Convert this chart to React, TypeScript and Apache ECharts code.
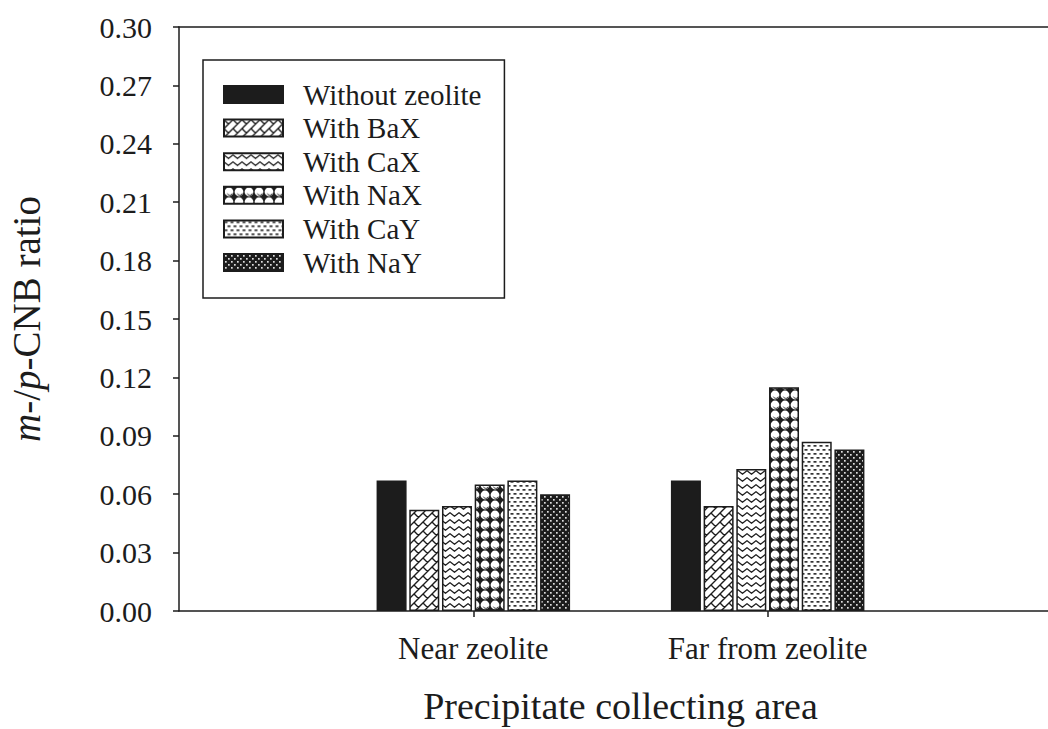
import React, { useEffect, useRef } from 'react';
import * as echarts from 'echarts';

// Sampling locations on the category axis
const categories = ['Near zeolite', 'Far from zeolite'];

// m-/p-CNB ratio per treatment, in category order
const seriesNames = ['Without zeolite', 'With BaX', 'With CaX', 'With NaX', 'With CaY', 'With NaY'];
const withoutZeolite = [0.067, 0.067];
const withBaX = [0.052, 0.054];
const withCaX = [0.054, 0.073];
const withNaX = [0.065, 0.115];
const withCaY = [0.067, 0.087];
const withNaY = [0.06, 0.083];

// y-axis range
const yMin = 0;
const yMax = 0.3;
const yStep = 0.03;

const FONT = "'Liberation Serif', 'Times New Roman', serif";
const INK = '#1c1c1c';

type Draw = (ctx: CanvasRenderingContext2D, w: number, h: number) => void;

function tile(w: number, h: number, draw: Draw) {
  const c = document.createElement('canvas');
  c.width = w;
  c.height = h;
  const ctx = c.getContext('2d') as CanvasRenderingContext2D;
  draw(ctx, w, h);
  return { image: c, repeat: 'repeat', imageWidth: w, imageHeight: h } as any;
}

// diagonal brick hatch
function brickPattern() {
  return tile(18, 18, (ctx, w) => {
    ctx.fillStyle = '#fff';
    ctx.fillRect(0, 0, w, w);
    ctx.strokeStyle = INK;
    ctx.lineWidth = 1.4;
    const a = w / Math.SQRT2;
    const H = a / 2;
    const L = a;
    ctx.save();
    ctx.rotate(-Math.PI / 4);
    ctx.beginPath();
    for (let k = -6; k <= 6; k++) {
      const q = k * H;
      ctx.moveTo(-80, q);
      ctx.lineTo(80, q);
      const off = (((k % 2) + 2) % 2) * (L / 2);
      for (let j = -7; j <= 7; j++) {
        const p = j * L + off;
        ctx.moveTo(p, q);
        ctx.lineTo(p, q + H);
      }
    }
    ctx.stroke();
    ctx.restore();
  });
}

// horizontal zigzag waves
function wavePattern() {
  return tile(9, 7, (ctx, w, h) => {
    ctx.fillStyle = '#fff';
    ctx.fillRect(0, 0, w, h);
    ctx.strokeStyle = INK;
    ctx.lineWidth = 1.3;
    ctx.lineJoin = 'round';
    ctx.beginPath();
    for (const dy of [-h, 0, h]) {
      const base = h / 2 + dy;
      ctx.moveTo(-w / 2, base + 1.8);
      ctx.lineTo(0, base - 1.8);
      ctx.lineTo(w / 2, base + 1.8);
      ctx.lineTo(w, base - 1.8);
      ctx.lineTo(w * 1.5, base + 1.8);
    }
    ctx.stroke();
  });
}

// white circles on black
function circlePattern() {
  return tile(10, 10, (ctx, w, h) => {
    ctx.fillStyle = INK;
    ctx.fillRect(0, 0, w, h);
    ctx.fillStyle = '#fff';
    ctx.beginPath();
    ctx.arc(w / 2, h / 2, 4.4, 0, Math.PI * 2);
    ctx.fill();
    ctx.strokeStyle = INK;
    ctx.lineWidth = 0.8;
    ctx.beginPath();
    ctx.arc(w / 2 + 0.8, h / 2 + 0.8, 2.6, 0.1 * Math.PI, 0.9 * Math.PI);
    ctx.stroke();
  });
}

// fine dashes on white
function dashPattern() {
  return tile(6, 8, (ctx, w, h) => {
    ctx.fillStyle = '#fff';
    ctx.fillRect(0, 0, w, h);
    ctx.fillStyle = '#333';
    ctx.fillRect(0.5, 1, 3, 1.7);
    ctx.fillRect(3.5, 5, 3, 1.7);
    ctx.fillRect(-2.5, 5, 3, 1.7);
  });
}

// white dots on black
function dotPattern() {
  return tile(6, 6, (ctx, w, h) => {
    ctx.fillStyle = INK;
    ctx.fillRect(0, 0, w, h);
    ctx.fillStyle = '#ddd';
    ctx.fillRect(1, 1, 1.7, 1.7);
    ctx.fillRect(4, 4, 1.7, 1.7);
  });
}

export default function App() {
  const ref = useRef<HTMLDivElement>(null);

  useEffect(() => {
    if (!ref.current) return;
    const chart = echarts.init(ref.current, null, { renderer: 'svg' });

    // empty end slots put the two groups at one-third and two-thirds of the axis
    const axisData = ['', ...categories, ''];
    const pad = (vals: number[]) => ['-', ...vals, '-'];

    const values = [withoutZeolite, withBaX, withCaX, withNaX, withCaY, withNaY];
    const fills: any[] = [INK, brickPattern(), wavePattern(), circlePattern(), dashPattern(), dotPattern()];

    const series = seriesNames.map((name, i) => ({
      name,
      type: 'bar',
      data: pad(values[i]),
      barWidth: 30,
      barGap: '9%',
      itemStyle: { color: fills[i], borderColor: INK, borderWidth: 1.5 },
    }));

    const showMiddle = (idx: number) => idx === 1 || idx === 2;

    chart.setOption({
      animation: false,
      backgroundColor: '#fff',
      textStyle: { fontFamily: FONT, color: INK },
      grid: { left: 179, top: 27, right: 0, bottom: 118, containLabel: false, outerBoundsMode: 'none' },
      legend: {
        orient: 'vertical',
        left: 203,
        top: 60,
        icon: 'rect',
        itemWidth: 59,
        itemHeight: 17,
        itemGap: 4.6,
        padding: [20, 23, 21, 20],
        borderColor: INK,
        borderWidth: 1.5,
        backgroundColor: '#fff',
        textStyle: { fontFamily: FONT, fontSize: 29, color: INK, padding: [0, 0, 0, 15] },
        data: seriesNames,
      },
      xAxis: [
        {
          type: 'category',
          data: axisData,
          boundaryGap: false,
          axisLine: { lineStyle: { color: INK, width: 1.5 } },
          axisTick: { show: true, interval: (idx: number) => showMiddle(idx), length: 6, lineStyle: { color: INK, width: 1.5 } },
          axisLabel: { interval: 0, fontFamily: FONT, fontSize: 31, color: INK, margin: 22 },
          splitLine: { show: false },
          name: 'Precipitate collecting area',
          nameLocation: 'middle',
          nameGap: 76,
          nameTextStyle: { fontFamily: FONT, fontSize: 38, color: INK },
        },
        {
          type: 'category',
          data: axisData,
          position: 'top',
          boundaryGap: false,
          axisLine: { show: true, lineStyle: { color: INK, width: 1.5 } },
          axisTick: { show: false },
          axisLabel: { show: false },
          splitLine: { show: false },
        },
      ],
      yAxis: {
        type: 'value',
        min: yMin,
        max: yMax,
        interval: yStep,
        axisLine: { show: true, lineStyle: { color: INK, width: 1.5 } },
        axisTick: { show: true, length: 6, lineStyle: { color: INK, width: 1.5 } },
        axisLabel: {
          fontFamily: FONT,
          fontSize: 30,
          color: INK,
          margin: 27,
          formatter: (v: number) => v.toFixed(2),
        },
        splitLine: { show: false },
        name: '{i|m}-/{i|p}-CNB ratio',
        nameLocation: 'middle',
        nameGap: 133,
        nameRotate: 90,
        nameTextStyle: {
          fontFamily: FONT,
          fontSize: 39,
          color: INK,
          rich: {
            i: { fontFamily: FONT, fontSize: 39, fontStyle: 'italic', color: INK },
          },
        },
      },
      series,
    });

    return () => chart.dispose();
  }, []);

  // the plot's right end runs past the visible edge, so the chart is wider than its clipping frame
  return (
    <div style={{ position: 'absolute', left: 0, top: 0, width: 1048, height: 729, overflow: 'hidden', background: '#fff' }}>
      <div ref={ref} style={{ width: 1062, height: 729 }} />
    </div>
  );
}
